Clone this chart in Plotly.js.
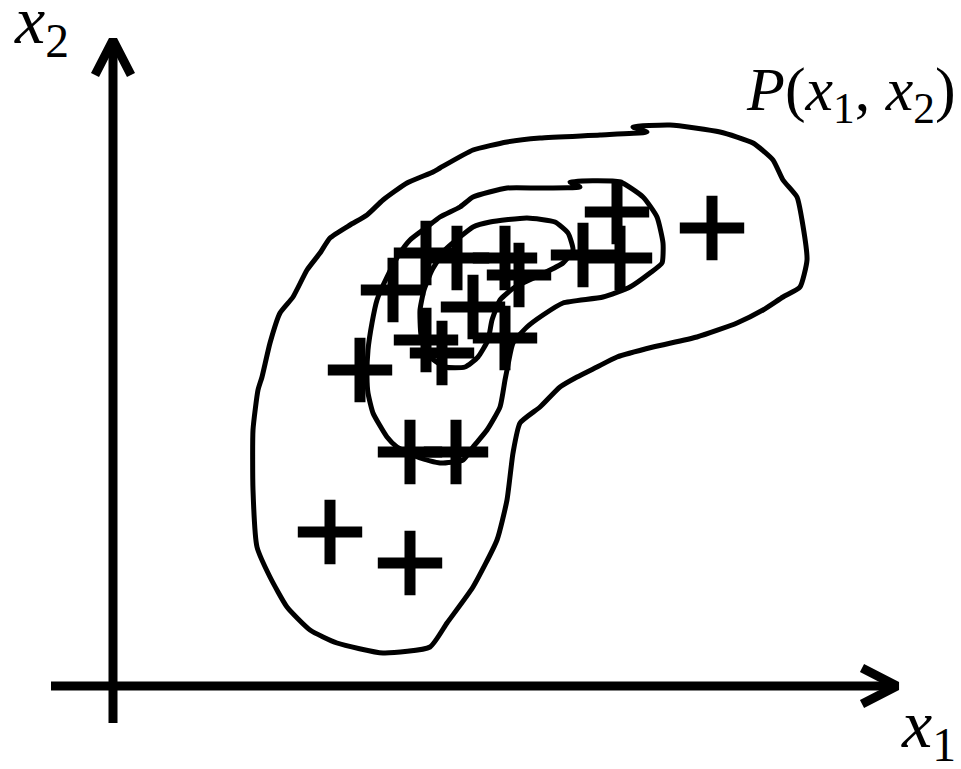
<!DOCTYPE html>
<html>
<head>
<meta charset="utf-8">
<script src="https://cdn.plot.ly/plotly-3.0.1.min.js"></script>
<style>
  html, body { margin: 0; padding: 0; background: #ffffff; }
  #chart { width: 961px; height: 769px; }
</style>
</head>
<body>
<div id="chart"></div>
<script>
// Sample points (x1, x2) drawn as "+" marks
const sampleX1 = [712, 617, 583, 620, 505, 519, 457, 426, 393, 473, 426, 442, 505, 360, 410, 456, 330, 410];
const sampleX2 = [228, 212, 255, 258, 258, 275, 258, 253, 290, 307, 340, 353, 338, 370, 452, 452, 532, 563];

// Outer level curve of P(x1, x2)
const outerX1 = [258, 262, 270, 280, 293, 307, 320, 330, 350, 367, 383, 407, 433, 440, 473, 507, 540, 600, 647, 633, 670, 720, 753, 773, 783, 797, 802, 807, 800, 783, 763, 737, 697, 653, 617, 597, 577, 560, 540, 520, 513, 507, 497, 473, 447, 430, 383, 337, 310, 287, 270, 257, 253, 253, 258];
const outerX2 = [390, 377, 343, 313, 297, 270, 253, 238, 225, 215, 200, 183, 172, 168, 150, 142, 138, 135, 132, 127, 125, 132, 143, 160, 180, 197, 220, 260, 287, 297, 310, 323, 337, 347, 357, 367, 377, 387, 407, 423, 453, 500, 540, 587, 623, 647, 653, 643, 630, 607, 577, 547, 490, 430, 390];

// Middle level curve
const middleX1 = [540, 580, 570, 620, 643, 657, 663, 662, 650, 630, 603, 563, 543, 527, 513, 507, 505, 500, 487, 473, 463, 440, 420, 397, 387, 373, 368, 367, 368, 372, 377, 387, 400, 410, 427, 440, 460, 473, 507, 540];
const middleX2 = [188, 187, 182, 182, 197, 217, 243, 263, 273, 287, 297, 303, 315, 327, 343, 370, 380, 407, 430, 447, 460, 463, 458, 447, 437, 413, 393, 377, 350, 323, 300, 277, 253, 240, 227, 217, 207, 197, 188, 188];

// Inner level curve
const innerX1 = [460, 445, 432, 424, 420, 421, 428, 445, 465, 478, 488, 492, 500, 515, 540, 563, 573, 568, 555, 527, 490, 473, 460];
const innerX2 = [237, 250, 270, 290, 310, 335, 355, 367, 367, 357, 340, 320, 300, 287, 275, 263, 250, 233, 222, 218, 222, 227, 237];

// Coordinate axes with open arrowheads
const axisV = { x: [113, 113], y: [723, 42] };
const axisH = { x: [51, 895], y: [686, 686] };
const headV = { x: [95, 113, 131], y: [75, 40, 75] };
const headH = { x: [862, 897, 862], y: [668, 686, 704] };

const ink = '#000000';
const curveStyle = { color: ink, width: 5, shape: 'spline', smoothing: 0.5 };

function lineTrace(x, y, line) {
  return { type: 'scatter', mode: 'lines', x: x, y: y, line: line, hoverinfo: 'skip' };
}

const traces = [
  lineTrace(axisV.x, axisV.y, { color: ink, width: 9 }),
  lineTrace(axisH.x, axisH.y, { color: ink, width: 9 }),
  lineTrace(headV.x, headV.y, { color: ink, width: 9 }),
  lineTrace(headH.x, headH.y, { color: ink, width: 9 }),
  lineTrace(outerX1, outerX2, curveStyle),
  lineTrace(middleX1, middleX2, curveStyle),
  lineTrace(innerX1, innerX2, curveStyle),
  {
    type: 'scatter', mode: 'markers', x: sampleX1, y: sampleX2, hoverinfo: 'skip',
    marker: { symbol: 'cross-thin', size: 46, color: ink, line: { color: ink, width: 11 } }
  }
];

const serif = 'Liberation Serif';

const layout = {
  width: 961, height: 769,
  margin: { l: 0, r: 0, t: 0, b: 0 },
  paper_bgcolor: '#ffffff', plot_bgcolor: '#ffffff',
  showlegend: false,
  font: { family: serif, color: ink },
  xaxis: { range: [0, 961], visible: false, fixedrange: true },
  yaxis: { range: [769, 0], visible: false, fixedrange: true },
  annotations: [
    { x: 0.0125, y: 1.026, xref: 'paper', yref: 'paper', xanchor: 'left', yanchor: 'top', showarrow: false,
      text: '<i>x</i><sub>2</sub>', font: { family: serif, size: 68, color: ink } },
    { x: 899, y: 684, xref: 'x', yref: 'y', xanchor: 'left', yanchor: 'top', showarrow: false,
      text: '<i>x</i><sub>1</sub>', font: { family: serif, size: 68, color: ink } },
    { x: 744, y: 53, xref: 'x', yref: 'y', xanchor: 'left', yanchor: 'top', showarrow: false,
      text: '<i>P</i>(<i>x</i><sub>1</sub>, <i>x</i><sub>2</sub>)', font: { family: serif, size: 62, color: ink } }
  ]
};

Plotly.newPlot('chart', traces, layout, { staticPlot: true, displayModeBar: false });
</script>
</body>
</html>
